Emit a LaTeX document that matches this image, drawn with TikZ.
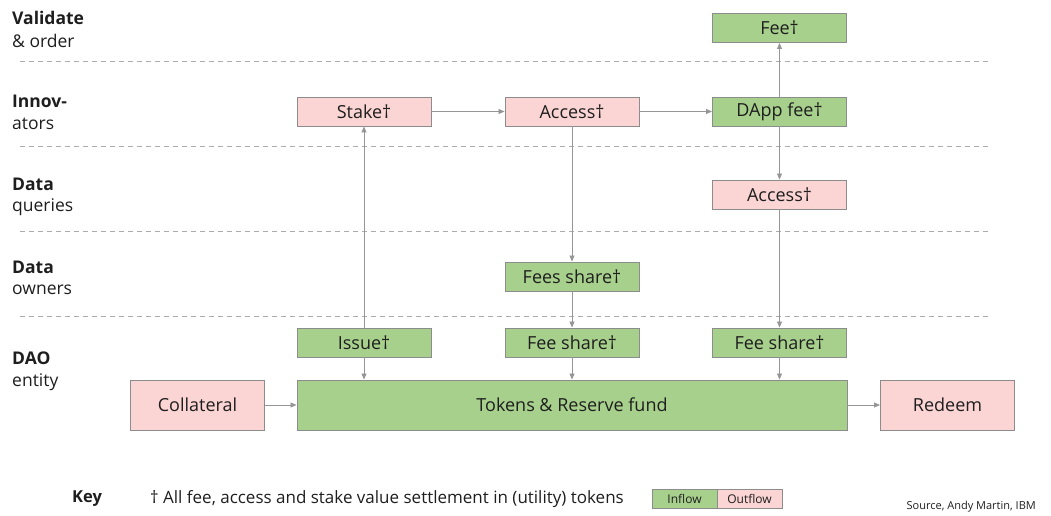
\documentclass[tikz,border=0pt]{standalone}
\usepackage{fontspec}
\setmainfont{Open Sans}
\usetikzlibrary{arrows.meta}
\definecolor{gfill}{RGB}{168,208,141}
\definecolor{pfill}{RGB}{251,212,212}
\definecolor{bord}{RGB}{140,140,140}
\definecolor{arr}{RGB}{150,150,150}
\definecolor{txt}{RGB}{30,30,30}
\begin{document}
\begin{tikzpicture}[x=1pt,y=-1pt,
  box/.style={draw=bord,line width=0.9pt,minimum width=134pt,minimum height=29pt,inner sep=0pt,font=\fontsize{18}{20}\selectfont,text=txt},
  gbox/.style={box,fill=gfill},
  pbox/.style={box,fill=pfill},
  flow/.style={draw=arr,line width=0.8pt,-{Triangle[length=6pt,width=5pt]}},
  lane/.style={draw=arr!80,dashed,dash pattern=on 5pt off 4pt,line width=0.8pt},
  lab/.style={anchor=west,font=\fontsize{17.5}{19}\selectfont,text=txt,inner sep=0pt},
  blab/.style={anchor=west,font=\fontsize{17.5}{19}\selectfont\bfseries,text=txt,inner sep=0pt}]
\useasboundingbox (0,0) rectangle (1051,516);
% lane separators
\foreach \yy/\nm in {61/l1,146/l2,231/l3,316/l4}{
  \coordinate (\nm a) at (20,\yy); \coordinate (\nm b) at (990,\yy);
  \draw[lane] (\nm a) -- (\nm b);}
% lane labels
\node[blab] (v1) at (12,18) {Validate};
\node[lab] (v2) at (12,41) {\& order};
\node[blab] (i1) at (12,101) {Innov-};
\node[lab] (i2) at (12,124) {ators};
\node[blab] (q1) at (12,184) {Data};
\node[lab] (q2) at (12,207) {queries};
\node[blab] (o1) at (12,267) {Data};
\node[lab] (o2) at (12,290) {owners};
\node[blab] (d1) at (12,358) {DAO};
\node[lab] (d2) at (12,382) {entity};
% boxes
\node[gbox] (fee) at (779.5,28) {Fee†};
\node[pbox] (stake) at (364,111.5) {Stake†};
\node[pbox] (acc1) at (572,111.5) {Access†};
\node[gbox] (dapp) at (779.5,111.5) {DApp fee†};
\node[pbox] (acc2) at (779.5,194.5) {Access†};
\node[gbox] (fees) at (572,276.5) {Fees share†};
\node[gbox] (issue) at (364,342.5) {Issue†};
\node[gbox] (fs1) at (572,342.5) {Fee share†};
\node[gbox] (fs2) at (779.5,342.5) {Fee share†};
\node[gbox,minimum width=550pt,minimum height=50pt] (tok) at (572,405) {Tokens \& Reserve fund};
\node[pbox,minimum height=50pt] (coll) at (197.5,405) {Collateral};
\node[pbox,minimum height=50pt] (red) at (947.5,405) {Redeem};
% connectors
\draw[flow] (stake) -- (acc1);
\draw[flow] (acc1) -- (dapp);
\draw[flow] (dapp) -- (fee);
\draw[flow] (dapp) -- (acc2);
\draw[flow] (acc2) -- (fs2);
\draw[flow] (fs2) -- (fs2 |- tok.north);
\draw[flow] (acc1) -- (fees);
\draw[flow] (fees) -- (fs1);
\draw[flow] (fs1) -- (fs1 |- tok.north);
\draw[flow] (issue) -- (issue |- tok.north);
\draw[flow] (issue) -- (stake);
\draw[flow] (coll) -- (tok);
\draw[flow] (tok) -- (red);
% key
\node[anchor=west,inner sep=0pt,font=\fontsize{16.5}{18}\selectfont\bfseries,text=txt] (key) at (72,499) {Key};
\node[anchor=west,inner sep=0pt,font=\fontsize{17}{19}\selectfont,text=txt] (note) at (150,499) {† All fee, access and stake value settlement in (utility) tokens};
\node[draw=bord,fill=gfill,minimum width=65pt,minimum height=19pt,inner sep=0pt,font=\fontsize{12}{14}\selectfont,text=txt] (inflow) at (684.5,498.5) {Inflow};
\node[draw=bord,fill=pfill,minimum width=65pt,minimum height=19pt,inner sep=0pt,font=\fontsize{12}{14}\selectfont,text=txt] (outflow) at (749.5,498.5) {Outflow};
\node[anchor=east,inner sep=0pt,font=\fontsize{11}{13}\selectfont,text=txt] (src) at (1036,507) {Source, Andy Martin, IBM};
\end{tikzpicture}
\end{document}
